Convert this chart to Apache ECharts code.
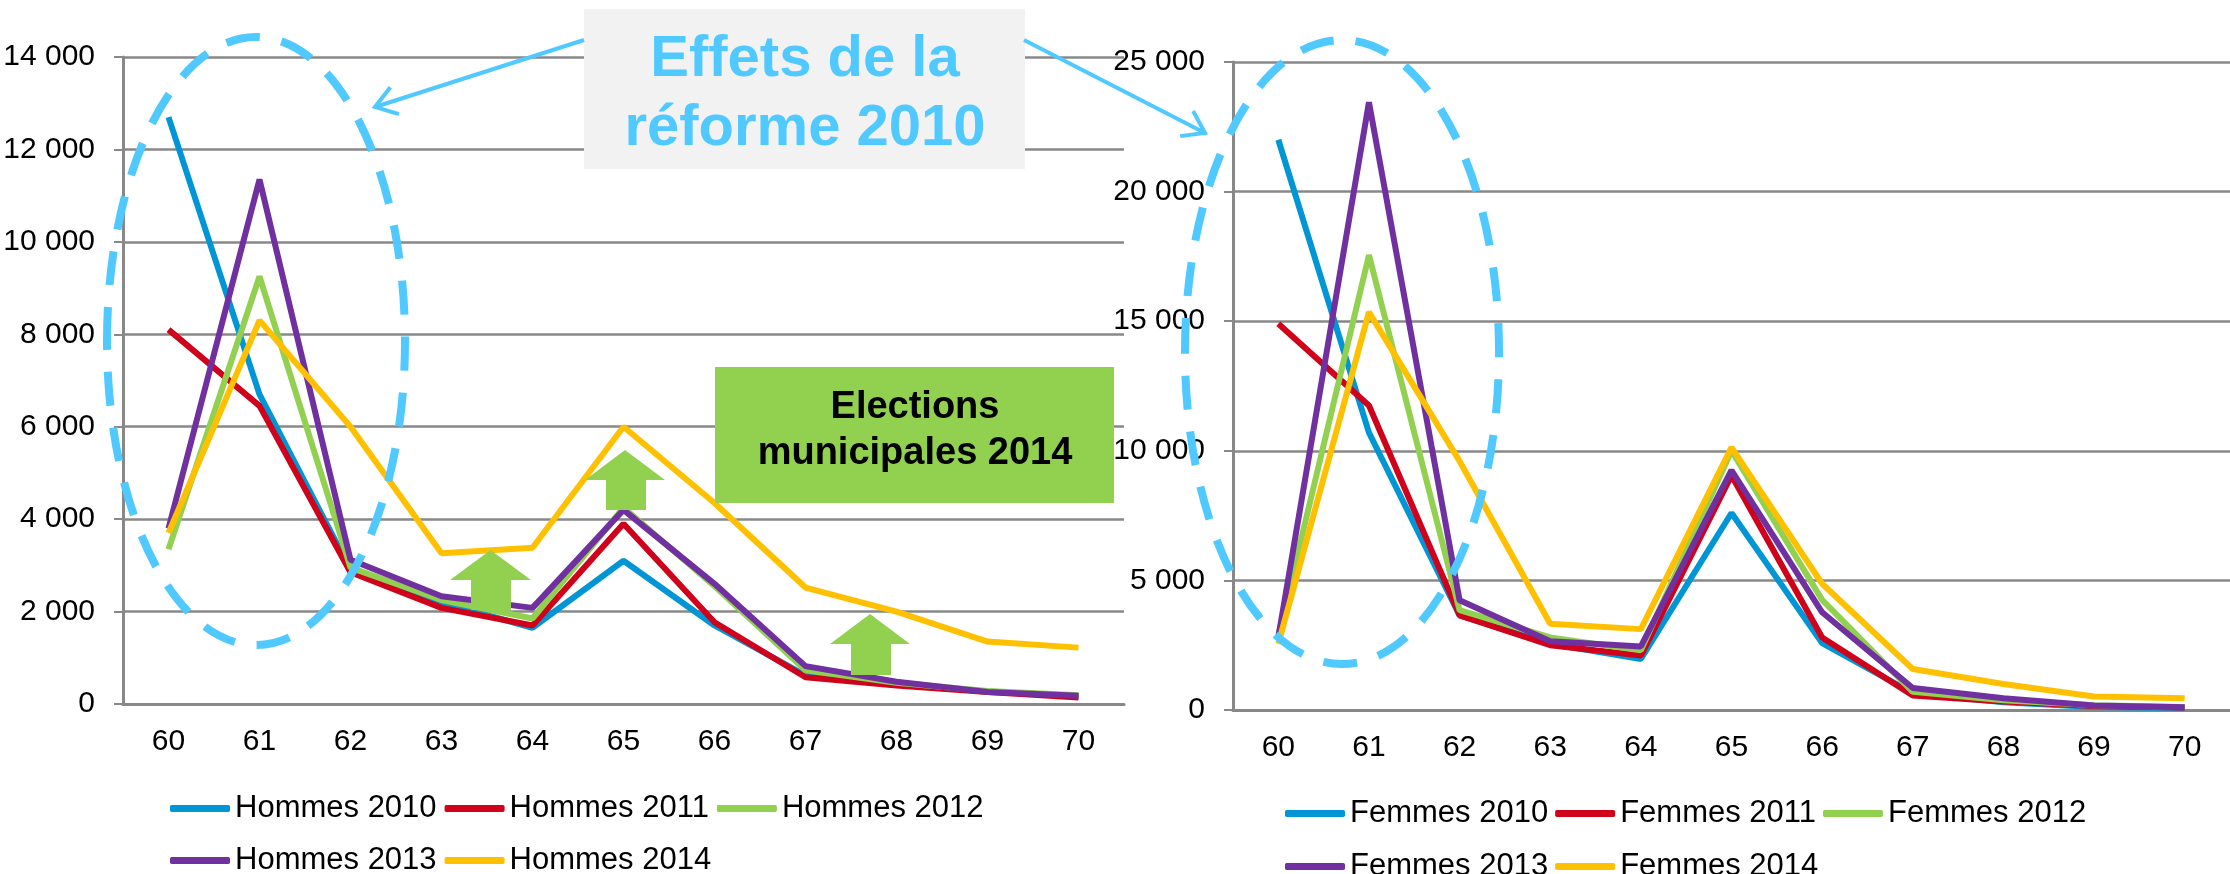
<!DOCTYPE html>
<html>
<head>
<meta charset="utf-8">
<script src="https://cdn.jsdelivr.net/npm/echarts@6/dist/echarts.min.js"></script>
<style>
  html, body { margin: 0; padding: 0; background: #fff; }
  #chart { width: 2230px; height: 874px; }
</style>
</head>
<body>
<div id="chart"></div>
<script>
// ages on the x axis (both charts)
var ages = ['60', '61', '62', '63', '64', '65', '66', '67', '68', '69', '70'];

// hommes
var h2010 = [12700, 6700, 2900, 2200, 1650, 3100, 1700, 620, 420, 270, 170];
var h2011 = [8100, 6450, 2850, 2080, 1700, 3900, 1770, 580, 400, 260, 140];
var h2012 = [3350, 9250, 2950, 2250, 1850, 4250, 2550, 730, 460, 280, 190];
var h2013 = [3800, 11350, 3120, 2330, 2080, 4200, 2600, 820, 480, 260, 180];
var h2014 = [3700, 8300, 6000, 3260, 3380, 6000, 4350, 2520, 2000, 1350, 1220];

// femmes
var f2010 = [22000, 10700, 3650, 2550, 1970, 7600, 2580, 650, 300, 120, 80];
var f2011 = [14900, 11750, 3650, 2500, 2100, 9050, 2800, 560, 330, 150, 100];
var f2012 = [2900, 17550, 3850, 2800, 2300, 10000, 4250, 700, 380, 180, 120];
var f2013 = [2800, 23450, 4230, 2650, 2450, 9250, 3770, 850, 450, 170, 110];
var f2014 = [2550, 15350, 9600, 3330, 3120, 10130, 4870, 1580, 1000, 520, 450];

var colors = ['#0096D6', '#D0021B', '#92D050', '#7030A0', '#FFC000'];
var font = "'Liberation Sans', Arial, sans-serif";
var gray = '#888888';
var light = '#4FC9FF';

function fmt(v) {
  return String(v).replace(/\B(?=(\d{3})+(?!\d))/g, ' ');
}

function xAxis(i) {
  return {
    type: 'category', gridIndex: i, data: ages, boundaryGap: true,
    axisLine: { lineStyle: { color: gray, width: 3 } },
    axisTick: { length: 9, lineStyle: { color: gray, width: 2 } },
    axisLabel: { margin: 23, fontSize: 30, color: '#000', fontFamily: font }
  };
}
function yAxis(i, max, step) {
  return {
    type: 'value', gridIndex: i, min: 0, max: max, interval: step,
    axisLine: { show: true, lineStyle: { color: gray, width: 3 } },
    axisTick: { show: true, length: 9, lineStyle: { color: gray, width: 2 } },
    splitLine: { lineStyle: { color: gray, width: 2.5 } },
    axisLabel: { margin: 28, fontSize: 30, color: '#000', fontFamily: font, formatter: fmt }
  };
}
function line(name, data, c, i) {
  return {
    name: name, type: 'line', data: data, xAxisIndex: i, yAxisIndex: i,
    symbol: 'none', color: c,
    lineStyle: { width: 6, color: c }
  };
}
function legend(names, x, y, gap) {
  return {
    data: names, left: x, top: y, itemGap: gap, itemWidth: 60, itemHeight: 7,
    icon: 'roundRect', selectedMode: false,
    textStyle: { fontSize: 31, color: '#000', fontFamily: font, padding: [0, 0, 0, 0] }
  };
}
function upArrow(x0, x1, s0, s1, top, base, bottom) {
  return {
    type: 'polygon', z: 100,
    shape: { points: [[(x0 + x1) / 2, top], [x1, base], [s1, base], [s1, bottom], [s0, bottom], [s0, base], [x0, base]] },
    style: { fill: '#92D050' }
  };
}
function pointer(x0, y0, x1, y1) {
  var a = Math.atan2(y0 - y1, x0 - x1), L = 25, d = 0.6;
  return [
    { type: 'line', z: 100, shape: { x1: x0, y1: y0, x2: x1, y2: y1 }, style: { stroke: light, lineWidth: 4 } },
    { type: 'polyline', z: 100,
      shape: { points: [[x1 + L * Math.cos(a + d), y1 + L * Math.sin(a + d)], [x1, y1], [x1 + L * Math.cos(a - d), y1 + L * Math.sin(a - d)]] },
      style: { stroke: light, lineWidth: 4, fill: null } }
  ];
}

var hNames = ['Hommes 2010', 'Hommes 2011', 'Hommes 2012', 'Hommes 2013', 'Hommes 2014'];
var fNames = ['Femmes 2010', 'Femmes 2011', 'Femmes 2012', 'Femmes 2013', 'Femmes 2014'];
var hData = [h2010, h2011, h2012, h2013, h2014];
var fData = [f2010, f2011, f2012, f2013, f2014];

var series = [];
hData.forEach(function (d, k) { series.push(line(hNames[k], d, colors[k], 0)); });
fData.forEach(function (d, k) { series.push(line(fNames[k], d, colors[k], 1)); });

var graphics = [
  // dashed ellipses
  { type: 'ellipse', z: 100, shape: { cx: 256, cy: 341, rx: 149, ry: 304 },
    style: { fill: null, stroke: light, lineWidth: 8, lineDash: [34, 22] } },
  { type: 'ellipse', z: 100, shape: { cx: 1342, cy: 352, rx: 157, ry: 312 },
    style: { fill: null, stroke: light, lineWidth: 8, lineDash: [34, 22] } },
  // "Effets de la réforme 2010" box
  { type: 'rect', z: 100, shape: { x: 584, y: 9, width: 441, height: 160 }, style: { fill: '#F2F2F2' } },
  { type: 'text', z: 101, x: 805, y: 60,
    style: { text: 'Effets de la', fill: light, font: 'bold 58px ' + font, textAlign: 'center', textVerticalAlign: 'middle' } },
  { type: 'text', z: 101, x: 805, y: 129,
    style: { text: 'réforme 2010', fill: light, font: 'bold 58px ' + font, textAlign: 'center', textVerticalAlign: 'middle' } },
  // "Elections municipales 2014" box
  { type: 'rect', z: 100, shape: { x: 715, y: 367, width: 399, height: 136 }, style: { fill: '#92D050' } },
  { type: 'text', z: 101, x: 915, y: 408,
    style: { text: 'Elections', fill: '#000', font: 'bold 38px ' + font, textAlign: 'center', textVerticalAlign: 'middle' } },
  { type: 'text', z: 101, x: 915, y: 454,
    style: { text: 'municipales 2014', fill: '#000', font: 'bold 38px ' + font, textAlign: 'center', textVerticalAlign: 'middle' } },
  // green up arrows
  upArrow(450, 531, 471, 511, 550, 580, 610),
  upArrow(585, 665, 606, 646, 450, 480, 510),
  upArrow(830, 910, 851, 891, 614, 644, 675)
].concat(pointer(584, 40, 375, 107), pointer(1024, 40, 1205, 133));

var chart = echarts.init(document.getElementById('chart'));
chart.setOption({
  animation: false,
  backgroundColor: '#fff',
  grid: [
    { left: 123, top: 57, width: 1001, height: 647 },
    { left: 1233, top: 62, width: 1001, height: 648 }
  ],
  xAxis: [xAxis(0), xAxis(1)],
  yAxis: [yAxis(0, 14000, 2000), yAxis(1, 25000, 5000)],
  legend: [
    legend(hNames.slice(0, 3), 165, 788, 8),
    legend(hNames.slice(3), 165, 840, 8),
    legend(fNames.slice(0, 3), 1280, 793, 7),
    legend(fNames.slice(3), 1280, 846, 7)
  ],
  series: series,
  graphic: graphics
});
</script>
</body>
</html>
